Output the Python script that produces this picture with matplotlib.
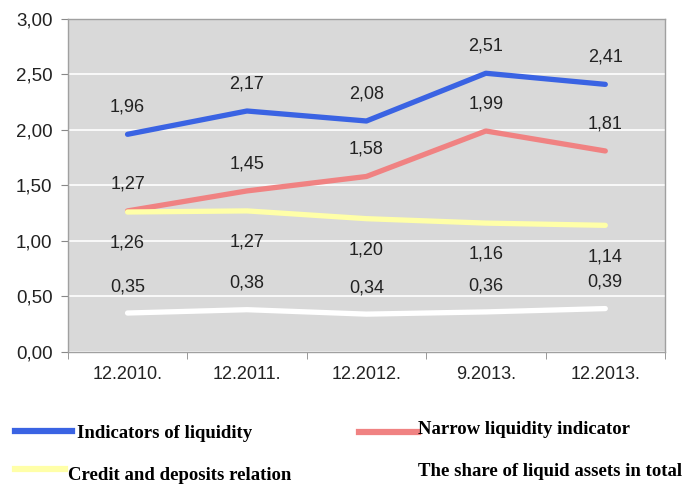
import numpy as np
import matplotlib
matplotlib.use('Agg')
import matplotlib.pyplot as plt
from matplotlib.lines import Line2D
from matplotlib.ticker import FuncFormatter

# Datos del grafico
periodos = ['12.2010.', '12.2011.', '12.2012.', '9.2013.', '12.2013.']
liquidez = [1.96, 2.17, 2.08, 2.51, 2.41]
liquidez_estrecha = [1.27, 1.45, 1.58, 1.99, 1.81]
credito_depositos = [1.26, 1.27, 1.20, 1.16, 1.14]
activos_liquidos = [0.35, 0.38, 0.34, 0.36, 0.39]

nombres = ['Indicators of liquidity', 'Narrow liquidity indicator',
           'Credit and deposits relation', 'The share of liquid assets in total']
colores = ['#3a63e3', '#f08282', '#ffffa8', '#ffffff']
# desplazamiento vertical de las etiquetas (puntos)
desplazamientos = [19.5, 19.5, -22.5, 19]

plt.rcParams['font.family'] = ['Liberation Sans', 'DejaVu Sans']

fig = plt.figure(figsize=(6.92, 4.84), dpi=100)
ax = fig.add_axes([0.098, 0.273, 0.863, 0.688])
ax.set_facecolor('#d9d9d9')

x = np.arange(len(periodos))
series = [liquidez, liquidez_estrecha, credito_depositos, activos_liquidos]
for valores, color, dy in zip(series, colores, desplazamientos):
    ax.plot(x, valores, color=color, linewidth=3.8, solid_capstyle='round', zorder=3)
    for xi, v in zip(x, valores):
        ax.annotate(f'{v:.2f}'.replace('.', ','), (xi, v), xytext=(0, dy),
                    textcoords='offset points', ha='center', va='center',
                    fontsize=13, color='#222222', zorder=4)

ax.set_xlim(-0.5, len(periodos) - 0.5)
ax.set_ylim(0, 3)
ax.set_yticks(np.arange(0, 3.01, 0.5))
ax.yaxis.set_major_formatter(FuncFormatter(lambda v, p: f'{v:.2f}'.replace('.', ',')))
ax.grid(axis='y', color='white', linewidth=1.2, zorder=1)
ax.set_axisbelow(True)

ax.set_xticks(x)
ax.set_xticklabels(periodos)
ax.set_xticks(np.arange(-0.5, len(periodos)), minor=True)
ax.tick_params(axis='x', which='major', length=0, pad=10, labelsize=13, labelcolor='#222222')
ax.tick_params(axis='x', which='minor', length=5, color='#888888')
ax.tick_params(axis='y', length=5, color='#888888', labelsize=13.5, labelcolor='#222222', pad=6)

for lado in ax.spines.values():
    lado.set_color('#a0a0a0')
    lado.set_linewidth(1.0)

# Leyenda dibujada a mano, como en la imagen original
posiciones = [(15, 72, 431, 77, 434), (359, 418, 432, 418, 429),
              (15, 65, 469, 68, 475), (None, None, None, 418, 471)]
for (x0, x1, yl, xt, yt), nombre, color in zip(posiciones, nombres, colores):
    if x0 is not None:
        fig.add_artist(Line2D([x0 / 692, x1 / 692], [1 - yl / 484, 1 - yl / 484],
                              color=color, linewidth=4.5, transform=fig.transFigure))
    fig.text(xt / 692, 1 - yt / 484, nombre, ha='left', va='center', fontsize=13.5,
             fontweight='bold', family=['Liberation Serif', 'DejaVu Serif'])

fig.savefig('out.png', dpi=100)
